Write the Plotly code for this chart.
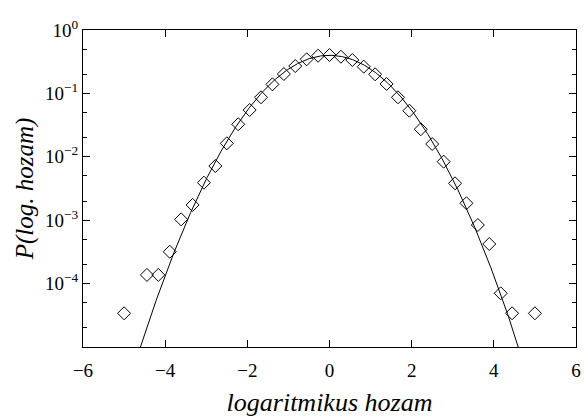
import numpy as np
import plotly.graph_objects as go

# Empirical density of log-returns (bin centres and probabilities)
bin_centres = [-5.0, -4.444, -4.167, -3.889, -3.611, -3.333, -3.056, -2.778,
               -2.5, -2.222, -1.944, -1.667, -1.389, -1.111, -0.833, -0.556,
               -0.278, 0.0, 0.278, 0.556, 0.833, 1.111, 1.389, 1.667, 1.944,
               2.222, 2.5, 2.778, 3.056, 3.333, 3.611, 3.889, 4.167, 4.444, 5.0]
density = [3.4e-5, 1.37e-4, 1.37e-4, 3.18e-4, 1.03e-3, 1.74e-3, 3.91e-3, 7.16e-3,
           0.0163, 0.0326, 0.0547, 0.0868, 0.139, 0.202, 0.270, 0.345,
           0.393, 0.403, 0.379, 0.336, 0.264, 0.200, 0.141, 0.0868, 0.0533,
           0.0272, 0.0159, 0.00838, 0.00382, 0.00185, 8.4e-4, 4.21e-4, 7.03e-5, 3.4e-5, 3.4e-5]

# Fitted normal distribution
fit_mean = 0.0
fit_sigma = 1.0
curve_x = np.linspace(-6, 6, 601)
curve_y = np.exp(-0.5 * ((curve_x - fit_mean) / fit_sigma) ** 2) / (fit_sigma * np.sqrt(2 * np.pi))

x_ticks = [-6, -4, -2, 0, 2, 4, 6]
x_ticktext = ["\u22126", "\u22124", "\u22122", "0", "2", "4", "6"]
y_ticks = [1, 0.1, 0.01, 0.001, 0.0001]
y_ticktext = ["10<sup>0</sup>", "10<sup>\u22121</sup>", "10<sup>\u22122</sup>",
              "10<sup>\u22123</sup>", "10<sup>\u22124</sup>"]
y_minor = [m * 10.0 ** e for e in range(-5, 0) for m in (2, 5)]

serif = "Liberation Serif"

fig = go.Figure()
fig.add_trace(go.Scatter(
    x=curve_x, y=curve_y, mode="lines",
    line=dict(color="black", width=1), hoverinfo="skip", showlegend=False,
))
fig.add_trace(go.Scatter(
    x=bin_centres, y=density, mode="markers",
    marker=dict(symbol="diamond-open", size=10, color="black", line=dict(width=1)),
    showlegend=False, cliponaxis=False,
))

fig.update_layout(
    width=584, height=420,
    margin=dict(l=83, r=3, t=30, b=73),
    paper_bgcolor="white", plot_bgcolor="white",
    font=dict(family=serif, color="black", size=19),
)
fig.update_xaxes(
    range=[-6, 6], tickmode="array", tickvals=x_ticks, ticktext=x_ticktext,
    ticks="inside", ticklen=7, tickwidth=1, tickcolor="black",
    showline=True, linecolor="black", linewidth=1.3, mirror="ticks",
    showgrid=False, zeroline=False, ticklabelstandoff=6,
    ticklabeloverflow="allow",
    tickfont=dict(family=serif, size=19),
    title=dict(text="<i>logaritmikus hozam</i>", font=dict(family=serif, size=26), standoff=12),
)
fig.update_yaxes(
    type="log", range=[-5, 0], tickmode="array", tickvals=y_ticks, ticktext=y_ticktext,
    ticks="inside", ticklen=7, tickwidth=1, tickcolor="black",
    minor=dict(tickmode="array", tickvals=y_minor, ticks="inside", ticklen=4,
               tickcolor="black", tickwidth=1, showgrid=False),
    showline=True, linecolor="black", linewidth=1.3, mirror="ticks",
    showgrid=False, zeroline=False, ticklabeloverflow="allow",
    tickfont=dict(family=serif, size=19),
    title=dict(text="<i>P(log. hozam)</i>", font=dict(family=serif, size=25), standoff=4),
)

fig.write_html("out.html")
